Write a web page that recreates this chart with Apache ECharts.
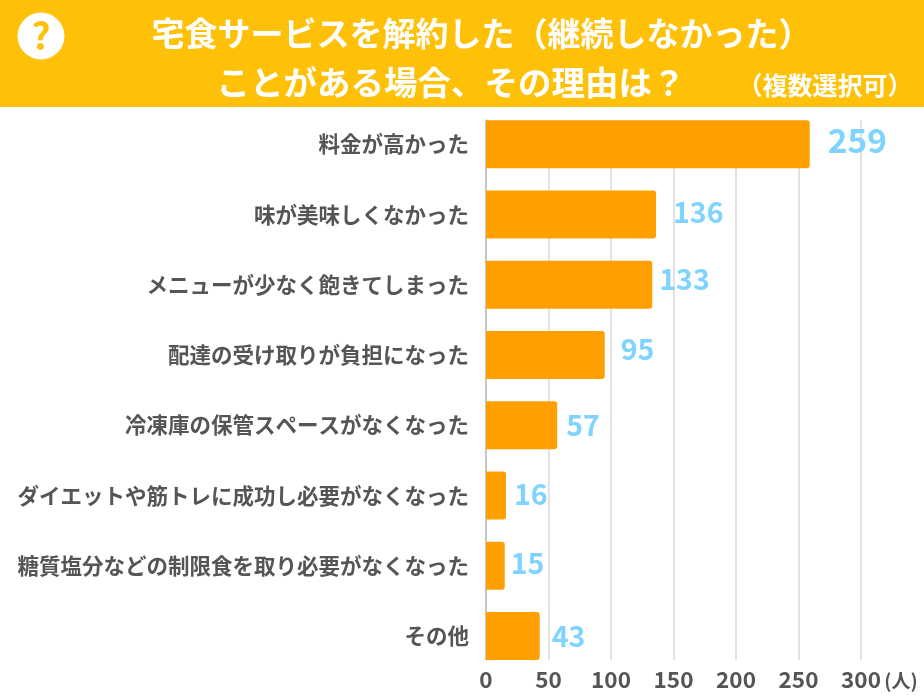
<!DOCTYPE html>
<html><head><meta charset="utf-8">
<style>html,body{margin:0;padding:0;background:#fff}#c{width:924px;height:700px}</style>
<script src="https://cdn.jsdelivr.net/npm/echarts@6/dist/echarts.min.js"></script></head>
<body><div id="c"></div>
<script>
const categories=['料金が高かった','味が美味しくなかった','メニューが少なく飽きてしまった','配達の受け取りが負担になった','冷凍庫の保管スペースがなくなった','ダイエットや筋トレに成功し必要がなくなった','糖質塩分などの制限食を取り必要がなくなった','その他'];
const values=[259,136,133,95,57,16,15,43];
const xTicks=[0,50,100,150,200,250,300];
const titleLine1='宅食サービスを解約した（継続しなかった）';
const titleLine2='ことがある場合、その理由は？';
const titleNote='（複数選択可）';
const unitLabel='(人)';
const labelOffsets=[[18,-4],[17,-2],[7,-5],[16,-6],[9,0],[8,-1],[6,-2],[12,0]];
const labelSizes=[33.5,28.5,28.5,28.5,28.5,28.5,28.5,28.5];
const font='"Noto Sans CJK JP","Noto Sans",sans-serif';
const chart=echarts.init(document.getElementById('c'),null,{renderer:'canvas'});
const txt=(x,y,text,size,fill)=>({type:'text',x,y,z:10,style:{text,font:'bold '+size+'px '+font,fill,textAlign:'center',textVerticalAlign:'middle'}});
chart.setOption({
 animation:false,
 graphic:[
  {type:'rect',shape:{x:0,y:0,width:924,height:107},style:{fill:'#FFC107'},z:1},
  {type:'circle',shape:{cx:41,cy:36,r:23.5},style:{fill:'#fff'},z:5},
  txt(41,36,'?',37,'#FFC107'),
  txt(481.5,33,titleLine1,33,'#fff'),
  txt(451,82,titleLine2,33.5,'#fff'),
  txt(825,85,titleNote,25,'#fff'),
  txt(901,681,unitLabel,19,'#555')
 ],
 grid:[
  {left:486,right:63,top:109,bottom:29},
  {left:486,right:63,top:120,bottom:40}
 ],
 xAxis:[
  {gridIndex:0,type:'value',min:0,max:300,interval:50,show:false},
  {gridIndex:1,type:'value',min:0,max:300,interval:50,
   axisLine:{show:false},axisTick:{show:false},
   splitLine:{show:true,lineStyle:{color:'#d8d8d8',width:1.5}},
   axisLabel:{color:'#555',fontFamily:font,fontWeight:'bold',fontSize:22.5,margin:8,
     formatter:v=>xTicks.includes(v)?String(v):''}}
 ],
 yAxis:[
  {gridIndex:0,type:'category',inverse:true,data:categories,
   axisLine:{show:false},axisTick:{show:false},splitLine:{show:false},
   axisLabel:{color:'#555',fontFamily:font,fontWeight:'bold',fontSize:21.5,margin:17}},
  {gridIndex:1,type:'category',data:[],axisLine:{show:true,onZero:false,lineStyle:{color:'#bbb',width:1.5}},axisTick:{show:false},axisLabel:{show:false}}
 ],
 series:[
  {type:'bar',xAxisIndex:0,yAxisIndex:0,z:5,barWidth:48,data:values.map((v,i)=>({value:v,
     label:{show:true,position:'right',distance:0,offset:labelOffsets[i],color:'#7FD3FF',fontFamily:font,fontWeight:'bold',fontSize:labelSizes[i]}})),
   itemStyle:{color:'#FFA000',borderRadius:[0,3,3,0]}},
  {type:'bar',xAxisIndex:1,yAxisIndex:1,data:[]}
 ]
});
</script></body></html>
